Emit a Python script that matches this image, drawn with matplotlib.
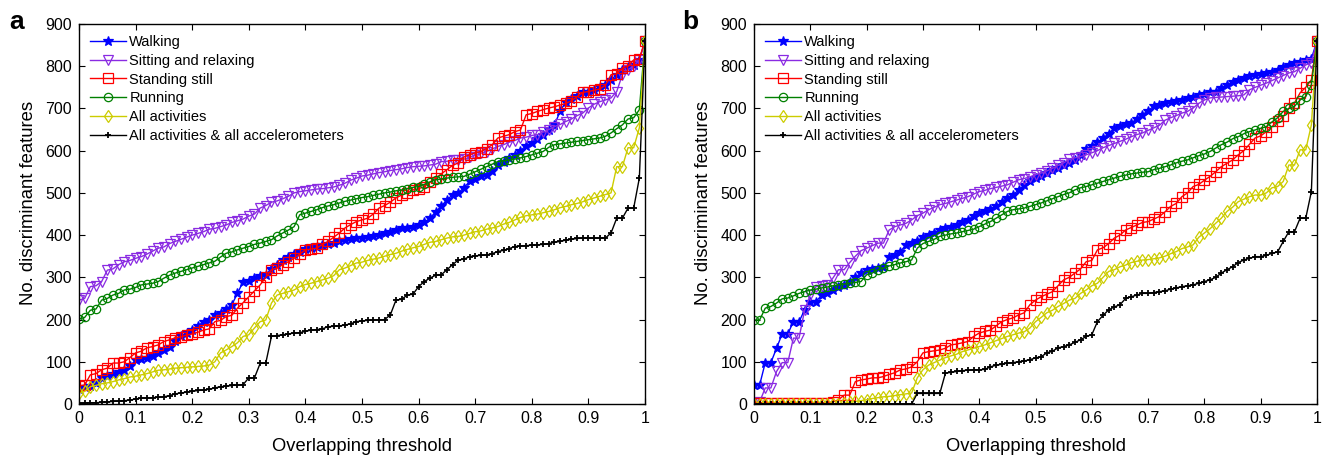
import numpy as np
import matplotlib
matplotlib.use("Agg")
import matplotlib.pyplot as plt

plt.rcParams['font.family'] = ['Liberation Sans', 'DejaVu Sans']

thresholds = [round(i * 0.01, 2) for i in range(101)]

series_names = ["Walking", "Sitting and relaxing", "Standing still", "Running",
                "All activities", "All activities & all accelerometers"]

# ---------------- panel a ----------------
walking_a = [35, 40, 42, 50, 62, 66, 72, 75, 80, 90,
             104, 106, 110, 113, 120, 128, 135, 150, 160, 168,
             175, 185, 195, 200, 210, 216, 225, 235, 262, 290,
             292, 298, 302, 306, 320, 330, 340, 348, 355, 360,
             366, 370, 373, 376, 378, 382, 385, 388, 390, 392,
             394, 395, 397, 400, 404, 408, 412, 416, 418, 420,
             425, 430, 440, 455, 468, 484, 495, 500, 512, 527,
             532, 540, 543, 552, 565, 574, 582, 590, 600, 612,
             618, 628, 637, 648, 661, 693, 716, 722, 730, 738,
             740, 744, 750, 756, 768, 780, 791, 797, 803, 815,
             860]
sitting_a = [246, 250, 278, 280, 290, 317, 320, 330, 337, 340,
             345, 349, 355, 362, 369, 372, 380, 385, 390, 395,
             400, 404, 408, 414, 416, 420, 424, 430, 434, 438,
             445, 450, 464, 470, 478, 481, 486, 492, 500, 503,
             505, 507, 509, 510, 512, 514, 518, 523, 530, 535,
             540, 542, 545, 548, 550, 553, 555, 557, 560, 562,
             563, 564, 566, 568, 574, 575, 577, 578, 580, 584,
             590, 594, 598, 604, 610, 614, 620, 624, 630, 632,
             636, 638, 644, 650, 657, 662, 669, 675, 683, 689,
             701, 710, 716, 720, 725, 740, 780, 792, 800, 815,
             860]
standing_a = [43, 45, 69, 72, 81, 85, 97, 97, 100, 110,
              121, 125, 133, 136, 140, 148, 152, 157, 159, 163,
              166, 170, 175, 178, 195, 198, 207, 210, 227, 240,
              254, 268, 282, 300, 318, 322, 330, 337, 345, 355,
              365, 367, 369, 378, 385, 395, 405, 417, 425, 432,
              436, 440, 450, 464, 470, 478, 488, 495, 500, 507,
              510, 515, 525, 535, 545, 555, 565, 571, 585, 590,
              595, 598, 605, 614, 630, 634, 638, 645, 649, 685,
              688, 693, 697, 701, 704, 708, 712, 718, 728, 738,
              740, 743, 746, 755, 780, 782, 796, 800, 815, 818,
              860]
running_a = [201, 205, 222, 225, 246, 250, 258, 262, 270, 272,
             276, 282, 284, 286, 290, 298, 305, 310, 314, 318,
             322, 326, 330, 334, 338, 348, 357, 360, 365, 369,
             373, 378, 381, 385, 389, 398, 405, 412, 420, 448,
             452, 456, 460, 465, 469, 472, 476, 480, 483, 486,
             489, 491, 494, 497, 500, 502, 505, 507, 510, 513,
             515, 520, 526, 531, 533, 535, 537, 538, 539, 544,
             550, 556, 562, 568, 574, 576, 578, 580, 583, 586,
             590, 594, 598, 608, 614, 616, 618, 620, 622, 624,
             626, 628, 630, 634, 642, 652, 661, 675, 678, 697,
             860]
allact_a = [26, 30, 41, 44, 48, 50, 53, 57, 60, 64,
            66, 69, 72, 76, 80, 81, 83, 85, 86, 87,
            88, 89, 90, 92, 100, 121, 128, 136, 145, 160,
            164, 180, 195, 199, 239, 258, 262, 266, 270, 278,
            283, 286, 290, 294, 298, 304, 318, 322, 328, 334,
            336, 340, 343, 346, 350, 354, 357, 362, 366, 370,
            373, 378, 383, 385, 389, 393, 396, 397, 400, 404,
            408, 410, 414, 417, 420, 426, 430, 436, 442, 446,
            448, 450, 453, 456, 460, 465, 468, 472, 475, 479,
            484, 488, 492, 496, 500, 562, 562, 607, 607, 654,
            860]
allacc_a = [2, 2, 3, 3, 4, 5, 6, 7, 8, 9,
            12, 14, 14, 15, 16, 17, 20, 24, 26, 28,
            30, 32, 33, 35, 38, 41, 42, 44, 45, 46,
            62, 62, 96, 97, 160, 162, 164, 166, 168, 169,
            172, 175, 176, 178, 183, 184, 185, 187, 190, 195,
            197, 198, 199, 199, 200, 211, 246, 248, 258, 260,
            278, 290, 298, 305, 306, 318, 330, 341, 343, 349,
            351, 352, 353, 356, 361, 364, 368, 373, 374, 375,
            376, 377, 378, 380, 383, 385, 388, 390, 392, 393,
            393, 393, 393, 393, 405, 440, 440, 464, 464, 535,
            860]

# ---------------- panel b ----------------
walking_b = [45, 45, 98, 98, 132, 166, 166, 195, 195, 223,
             242, 242, 258, 262, 270, 278, 282, 290, 300, 310,
             318, 320, 322, 325, 348, 352, 361, 377, 382, 387,
             395, 400, 406, 412, 416, 420, 424, 430, 436, 446,
             452, 456, 462, 468, 478, 488, 495, 507, 518, 527,
             535, 539, 548, 555, 560, 566, 570, 578, 590, 605,
             610, 620, 630, 640, 654, 658, 662, 666, 675, 685,
             695, 705, 708, 712, 716, 718, 720, 724, 728, 732,
             735, 738, 740, 748, 756, 762, 768, 772, 776, 780,
             782, 785, 787, 792, 799, 804, 808, 811, 815, 818,
             860]
sitting_b = [3, 5, 38, 38, 77, 98, 98, 156, 156, 223,
             258, 278, 280, 282, 298, 318, 318, 335, 350, 363,
             369, 375, 381, 381, 412, 420, 424, 428, 436, 446,
             452, 460, 466, 472, 475, 479, 483, 487, 491, 497,
             503, 506, 510, 513, 516, 519, 525, 531, 534, 538,
             543, 547, 552, 558, 565, 571, 580, 583, 586, 590,
             595, 600, 607, 612, 617, 622, 627, 633, 638, 642,
             648, 654, 660, 672, 678, 683, 689, 693, 701, 712,
             720, 725, 726, 727, 728, 729, 730, 732, 744, 750,
             755, 760, 766, 772, 778, 784, 787, 795, 803, 808,
             860]
standing_b = [3, 3, 3, 3, 3, 3, 3, 3, 3, 3,
              3, 3, 3, 3, 5, 10, 21, 21, 53, 57,
              59, 62, 62, 65, 70, 74, 81, 83, 88, 100,
              121, 124, 126, 128, 132, 140, 142, 145, 148, 160,
              168, 172, 175, 185, 195, 200, 204, 211, 216, 235,
              246, 254, 260, 266, 280, 294, 300, 310, 320, 337,
              340, 365, 370, 380, 393, 400, 412, 418, 424, 430,
              432, 438, 444, 455, 468, 475, 491, 500, 515, 520,
              530, 539, 550, 562, 570, 578, 590, 600, 615, 630,
              635, 645, 657, 670, 681, 700, 713, 737, 750, 768,
              860]
running_b = [199, 199, 227, 231, 239, 249, 251, 256, 262, 266,
             270, 272, 275, 277, 280, 282, 284, 286, 288, 290,
             306, 310, 318, 322, 327, 330, 334, 337, 341, 369,
             380, 385, 390, 397, 400, 403, 405, 408, 411, 414,
             420, 426, 432, 440, 448, 456, 460, 462, 464, 468,
             472, 476, 481, 486, 491, 496, 500, 507, 512, 515,
             519, 523, 527, 531, 535, 539, 542, 545, 547, 549,
             550, 555, 558, 562, 566, 571, 575, 578, 583, 588,
             592, 598, 606, 614, 620, 628, 633, 640, 645, 649,
             653, 657, 668, 678, 693, 700, 705, 720, 728, 756,
             860]
allact_b = [0, 0, 0, 0, 0, 0, 0, 0, 0, 0,
            0, 0, 0, 0, 0, 0, 2, 4, 6, 8,
            10, 13, 15, 17, 18, 20, 22, 24, 26, 62,
            81, 92, 98, 104, 110, 114, 118, 124, 128, 132,
            136, 140, 145, 150, 155, 160, 164, 168, 171, 180,
            195, 205, 216, 222, 231, 238, 246, 250, 262, 270,
            280, 286, 300, 314, 318, 325, 329, 335, 338, 341,
            342, 344, 346, 350, 356, 361, 368, 372, 377, 395,
            405, 415, 428, 440, 456, 466, 479, 485, 491, 495,
            495, 500, 512, 515, 527, 566, 566, 602, 602, 661,
            860]
allacc_b = [0, 0, 0, 0, 0, 0, 0, 0, 0, 0,
            0, 0, 0, 0, 0, 0, 0, 0, 0, 0,
            0, 0, 0, 0, 0, 0, 0, 0, 0, 25,
            25, 25, 25, 25, 73, 75, 77, 79, 80, 81,
            81, 82, 88, 92, 94, 97, 98, 100, 102, 105,
            109, 112, 121, 125, 133, 136, 140, 146, 152, 160,
            164, 195, 210, 223, 230, 235, 250, 254, 258, 262,
            262, 264, 266, 268, 272, 275, 278, 280, 282, 286,
            290, 294, 300, 310, 318, 325, 335, 341, 345, 349,
            349, 352, 357, 360, 385, 408, 408, 440, 440, 503,
            860]

x_ticks = [0, 0.1, 0.2, 0.3, 0.4, 0.5, 0.6, 0.7, 0.8, 0.9, 1]
x_tick_labels = ["0", "0.1", "0.2", "0.3", "0.4", "0.5", "0.6", "0.7", "0.8", "0.9", "1"]
y_ticks = [0, 100, 200, 300, 400, 500, 600, 700, 800, 900]

styles = [
    dict(color="#0000FF", marker="*", ms=7, mfc="#0000FF", mec="#0000FF"),
    dict(color="#8A2BE2", marker="v", ms=6.5, mfc="none", mec="#8A2BE2"),
    dict(color="#FF0000", marker="s", ms=6.5, mfc="none", mec="#FF0000"),
    dict(color="#008000", marker="o", ms=6, mfc="none", mec="#008000"),
    dict(color="#CCCC00", marker="d", ms=6.5, mfc="none", mec="#CCCC00"),
    dict(color="#000000", marker="+", ms=5, mfc="#000000", mec="#000000", mew=1.3),
]

fig = plt.figure(figsize=(13.28, 4.55), dpi=100)
W, H = 1328, 455
ax_a = fig.add_axes([79 / W, 1 - 404 / H, (645 - 79) / W, (404 - 24) / H])
ax_b = fig.add_axes([754 / W, 1 - 404 / H, (1317 - 754) / W, (404 - 24) / H])

panels = [
    (ax_a, [walking_a, sitting_a, standing_a, running_a, allact_a, allacc_a], "a", 9),
    (ax_b, [walking_b, sitting_b, standing_b, running_b, allact_b, allacc_b], "b", 682),
]

for ax, data, letter, lx in panels:
    for name, vals, st in zip(series_names, data, styles):
        st = dict(st)
        mew = st.pop("mew", 0.9)
        ax.plot(thresholds, vals, lw=1.0, mew=mew, label=name, **st)
    ax.set_xlim(0, 1)
    ax.set_ylim(0, 900)
    ax.set_xticks(x_ticks)
    ax.set_xticklabels(x_tick_labels)
    ax.set_yticks(y_ticks)
    ax.tick_params(direction="in", top=True, right=True, labelsize=11.5,
                   length=4, width=0.8, pad=5)
    for s in ax.spines.values():
        s.set_linewidth(1.0)
    ax.set_xlabel("Overlapping threshold", fontsize=13.2, labelpad=9)
    ax.set_ylabel("No. discriminant features", fontsize=13.3)
    ax.yaxis.set_label_coords(-0.074, 0.53)
    leg = ax.legend(loc="upper left", frameon=False, fontsize=10.5,
                    handlelength=2.5, handletextpad=0.2, labelspacing=0.33,
                    borderaxespad=0.35, bbox_to_anchor=(0.0, 1.0), numpoints=1)
    fig.text(lx / W, 1 - 22 / H, letter, fontsize=19, fontweight="bold",
             ha="left", va="center")

fig.savefig("out.png", dpi=100)
